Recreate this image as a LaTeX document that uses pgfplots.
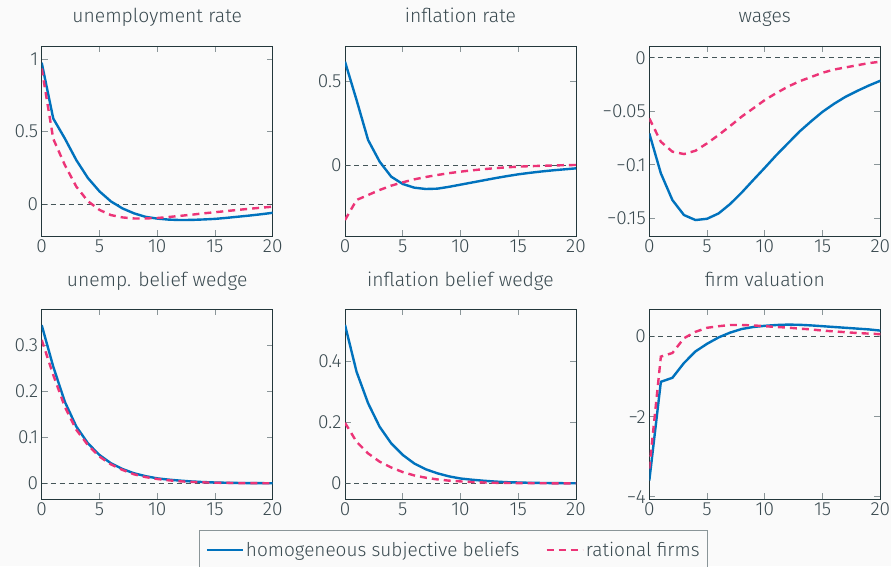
\documentclass[border=0pt]{standalone}
\usepackage{fontspec}
\setmainfont{Fira Sans}[UprightFont=* Light]
\usepackage{pgfplots}
\pgfplotsset{compat=1.18}
\definecolor{bg}{HTML}{FAFAFA}
\definecolor{txt}{HTML}{3A4A50}
\definecolor{axc}{HTML}{23373B}
\definecolor{tickc}{HTML}{8A9598}
\definecolor{cblue}{RGB}{0,114,189}
\definecolor{cpink}{RGB}{236,52,119}
\newcommand{\fs}{\fontsize{19}{21}\selectfont}
\newcommand{\ft}{\fontsize{19.3}{22}\selectfont}
\pgfplotsset{
 panel/.style={
  scale only axis, width=231pt, height=190pt,
  anchor=south west,
  xmin=0,xmax=20, xtick={0,5,10,15,20},
  axis line style={draw=axc, line width=0.9pt},
  major tick style={draw=tickc, line width=0.9pt},
  major tick length=6pt,
  tick align=inside,
  ticklabel style={font=\fs, text=txt},
  /pgf/number format/assume math mode=true,
  title style={font=\ft, text=txt, at={(0.5,1)}, anchor=base, yshift=17pt},
  scaled y ticks=false,
  axis background/.style={fill=bg},
 },
 bline/.style={cblue, line width=2.4pt, line join=round},
 pline/.style={cpink, line width=2.4pt, dash pattern=on 7pt off 5pt},
 zline/.style={axc!85, line width=0.9pt, dash pattern=on 5pt off 4pt, forget plot},
}
\begin{document}
\begin{tikzpicture}
\useasboundingbox (0,0) rectangle (891pt,566pt);
\fill[bg] (0,0) rectangle (891pt,566pt);
% ---------- unemployment rate
\begin{axis}[panel, at={(41.7pt,330pt)}, title={unemployment rate},
  ymin=-0.22, ymax=1.09, ytick={0,0.5,1}, yticklabels={0,0.5,1}]
\addplot[zline] coordinates {(0,0) (20,0)};
\addplot[bline] coordinates {(0,0.975) (1,0.59) (2,0.453) (3,0.303) (4,0.18) (5,0.088) (6,0.018) (7,-0.03) (8,-0.064) (9,-0.088) (10,-0.10) (11,-0.107) (12,-0.11) (13,-0.109) (14,-0.106) (15,-0.102) (16,-0.095) (17,-0.087) (18,-0.079) (19,-0.07) (20,-0.06)};
\addplot[pline] coordinates {(0,0.935) (1,0.45) (2,0.27) (3,0.12) (4,0.02) (5,-0.04) (6,-0.076) (7,-0.092) (8,-0.099) (9,-0.099) (10,-0.096) (11,-0.089) (12,-0.081) (13,-0.073) (14,-0.064) (15,-0.056) (16,-0.048) (17,-0.04) (18,-0.032) (19,-0.025) (20,-0.018)};
\end{axis}
% ---------- inflation rate
\begin{axis}[panel, at={(345pt,330pt)}, title={inflation rate},
  ymin=-0.426, ymax=0.714, ytick={0,0.5}, yticklabels={0,0.5}]
\addplot[zline] coordinates {(0,0) (20,0)};
\addplot[bline] coordinates {(0,0.62) (1,0.39) (2,0.15) (3,0.02) (4,-0.07) (5,-0.114) (6,-0.136) (7,-0.144) (8,-0.142) (9,-0.131) (10,-0.118) (11,-0.105) (12,-0.092) (13,-0.079) (14,-0.067) (15,-0.056) (16,-0.047) (17,-0.039) (18,-0.032) (19,-0.026) (20,-0.02)};
\addplot[pline] coordinates {(0,-0.33) (1,-0.21) (2,-0.18) (3,-0.15) (4,-0.124) (5,-0.104) (6,-0.086) (7,-0.072) (8,-0.06) (9,-0.049) (10,-0.04) (11,-0.032) (12,-0.025) (13,-0.019) (14,-0.014) (15,-0.01) (16,-0.007) (17,-0.005) (18,-0.003) (19,-0.001) (20,0)};
\end{axis}
% ---------- wages
\begin{axis}[panel, at={(649.3pt,330pt)}, title={wages},
  ymin=-0.1666, ymax=0.011, ytick={-0.15,-0.1,-0.05,0}, yticklabels={−0.15,−0.1,−0.05,0}]
\addplot[zline] coordinates {(0,0) (20,0)};
\addplot[bline] coordinates {(0,-0.0707) (1,-0.108) (2,-0.133) (3,-0.147) (4,-0.1517) (5,-0.1505) (6,-0.1455) (7,-0.1367) (8,-0.126) (9,-0.1143) (10,-0.1028) (11,-0.091) (12,-0.080) (13,-0.069) (14,-0.0595) (15,-0.0505) (16,-0.043) (17,-0.0364) (18,-0.031) (19,-0.026) (20,-0.0215)};
\addplot[pline] coordinates {(0,-0.0567) (1,-0.0785) (2,-0.0878) (3,-0.090) (4,-0.0869) (5,-0.080) (6,-0.0722) (7,-0.0638) (8,-0.055) (9,-0.0473) (10,-0.0395) (11,-0.033) (12,-0.027) (13,-0.022) (14,-0.018) (15,-0.014) (16,-0.011) (17,-0.009) (18,-0.007) (19,-0.005) (20,-0.0037)};
\end{axis}
% ---------- unemp. belief wedge
\begin{axis}[panel, at={(41.7pt,67pt)}, title={unemp. belief wedge},
  ymin=-0.034, ymax=0.378, ytick={0,0.1,0.2,0.3}, yticklabels={0,0.1,0.2,0.3}]
\addplot[zline] coordinates {(0,0) (20,0)};
\addplot[bline] coordinates {(0,0.343) (1,0.253) (2,0.177) (3,0.123) (4,0.0868) (5,0.0615) (6,0.0434) (7,0.031) (8,0.0217) (9,0.0155) (10,0.0108) (11,0.008) (12,0.0058) (13,0.004) (14,0.0027) (15,0.0018) (16,0.0012) (17,0.0008) (18,0.0005) (19,0.0003) (20,0.0002)};
\addplot[pline] coordinates {(0,0.311) (1,0.235) (2,0.166) (3,0.116) (4,0.083) (5,0.058) (6,0.041) (7,0.029) (8,0.0195) (9,0.0135) (10,0.0094) (11,0.0065) (12,0.0043) (13,0.003) (14,0.002) (15,0.0013) (16,0.0009) (17,0.0006) (18,0.0004) (19,0.0002) (20,0.0001)};
\end{axis}
% ---------- inflation belief wedge
\begin{axis}[panel, at={(345pt,67pt)}, title={inflation belief wedge},
  ymin=-0.051, ymax=0.57, ytick={0,0.2,0.4}, yticklabels={0,0.2,0.4},
  legend style={at={(0.47,-0.165)}, anchor=north, legend columns=-1,
    draw=tickc, fill=bg, font=\fs, text=txt, line width=0.9pt,
    /tikz/every even column/.append style={column sep=24pt},
    inner xsep=6pt, inner ysep=9pt},
  legend image code/.code={\draw[#1] (0pt,0pt) -- (36pt,0pt);}]
\addplot[zline] coordinates {(0,0) (20,0)};
\addplot[bline] coordinates {(0,0.518) (1,0.365) (2,0.262) (3,0.185) (4,0.131) (5,0.093) (6,0.065) (7,0.046) (8,0.033) (9,0.023) (10,0.016) (11,0.012) (12,0.0087) (13,0.006) (14,0.004) (15,0.003) (16,0.002) (17,0.0014) (18,0.001) (19,0.0006) (20,0.0004)};
\addlegendentry{homogeneous subjective beliefs}
\addplot[pline] coordinates {(0,0.198) (1,0.136) (2,0.098) (3,0.071) (4,0.052) (5,0.037) (6,0.026) (7,0.0185) (8,0.013) (9,0.009) (10,0.0065) (11,0.0045) (12,0.003) (13,0.002) (14,0.0015) (15,0.001) (16,0.0007) (17,0.0005) (18,0.0003) (19,0.0002) (20,0.0001)};
\addlegendentry{rational firms}
\end{axis}
% ---------- firm valuation
\begin{axis}[panel, at={(649.3pt,67pt)}, title={firm valuation},
  ymin=-4.06, ymax=0.69, ytick={-4,-2,0}, yticklabels={−4,−2,0}]
\addplot[zline] coordinates {(0,0) (20,0)};
\addplot[bline] coordinates {(0,-3.6) (1,-1.13) (2,-1.03) (3,-0.66) (4,-0.37) (5,-0.18) (6,-0.02) (7,0.10) (8,0.19) (9,0.24) (10,0.27) (11,0.29) (12,0.30) (13,0.295) (14,0.28) (15,0.26) (16,0.24) (17,0.22) (18,0.20) (19,0.18) (20,0.15)};
\addplot[pline] coordinates {(0,-3.3) (1,-0.50) (2,-0.41) (3,-0.04) (4,0.12) (5,0.22) (6,0.26) (7,0.29) (8,0.29) (9,0.28) (10,0.26) (11,0.24) (12,0.225) (13,0.20) (14,0.18) (15,0.15) (16,0.13) (17,0.11) (18,0.09) (19,0.075) (20,0.06)};
\end{axis}
\end{tikzpicture}
\end{document}
